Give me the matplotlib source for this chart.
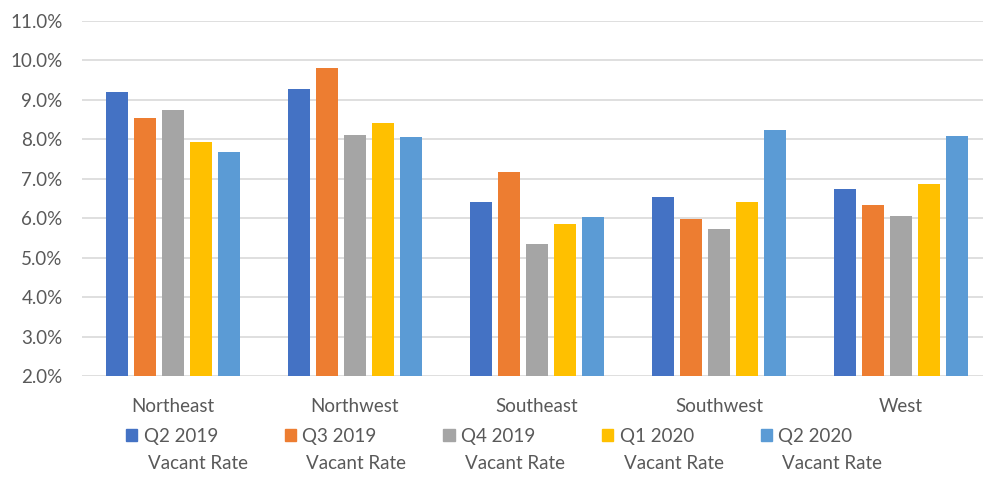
import matplotlib.pyplot as plt
import numpy as np
from matplotlib.patches import Patch
from matplotlib.ticker import FuncFormatter, MultipleLocator

regions = ["Northeast", "Northwest", "Southeast", "Southwest", "West"]
series = ["Q2 2019", "Q3 2019", "Q4 2019", "Q1 2020", "Q2 2020"]

q2_2019 = [9.21, 9.28, 6.40, 6.55, 6.73]
q3_2019 = [8.55, 9.82, 7.18, 5.98, 6.33]
q4_2019 = [8.75, 8.11, 5.35, 5.72, 6.06]
q1_2020 = [7.93, 8.42, 5.86, 6.40, 6.87]
q2_2020 = [7.69, 8.06, 6.04, 8.24, 8.08]

colors = ["#4472C4", "#ED7D31", "#A5A5A5", "#FFC000", "#5B9BD5"]
text_color = "#595959"

plt.rcParams["font.family"] = ["Lato", "DejaVu Sans"]

fig = plt.figure(figsize=(9.83, 4.87), dpi=100)
# axes run a little past the right edge, as in the cropped original
ax = fig.add_axes([82 / 983, 1 - 376 / 487, 910 / 983, 355 / 487])

x = np.arange(len(regions))
step = 0.154
width = 0.119
for i, (vals, c) in enumerate(zip([q2_2019, q3_2019, q4_2019, q1_2020, q2_2020], colors)):
    ax.bar(x + (i - 2) * step, np.array(vals) - 2.0, width, bottom=2.0, color=c, zorder=3)

ax.set_xlim(-0.5, len(regions) - 0.5)
ax.set_ylim(2.0, 11.0)
ax.yaxis.set_major_locator(MultipleLocator(1.0))
ax.yaxis.set_major_formatter(FuncFormatter(lambda v, _: f"{v:.1f}%"))
ax.set_xticks(x, regions)
ax.grid(axis="y", color="#D9D9D9", linewidth=1.2, zorder=0)
for s in ax.spines.values():
    s.set_visible(False)
ax.tick_params(length=0, colors=text_color, labelsize=13.5)
ax.tick_params(axis="x", pad=16)
ax.tick_params(axis="y", pad=14)

handles = [Patch(color=c) for c in colors]
leg = fig.legend(handles, series, loc="upper left", bbox_to_anchor=(126 / 983, 1 - 428 / 487),
                 ncol=5, frameon=False, fontsize=13.5, handlelength=0.6, handleheight=0.6,
                 handletextpad=0.35, columnspacing=3.55, borderaxespad=0, borderpad=0)
for t in leg.get_texts():
    t.set_color(text_color)

fig.canvas.draw()
for t in leg.get_texts():
    bb = t.get_window_extent()
    fig.text((bb.x0 + 4) / fig.bbox.width, (bb.y0 - 27) / fig.bbox.height, "Vacant Rate",
             color=text_color, fontsize=13.5, va="bottom", ha="left")

fig.savefig("out.png", dpi=100)
